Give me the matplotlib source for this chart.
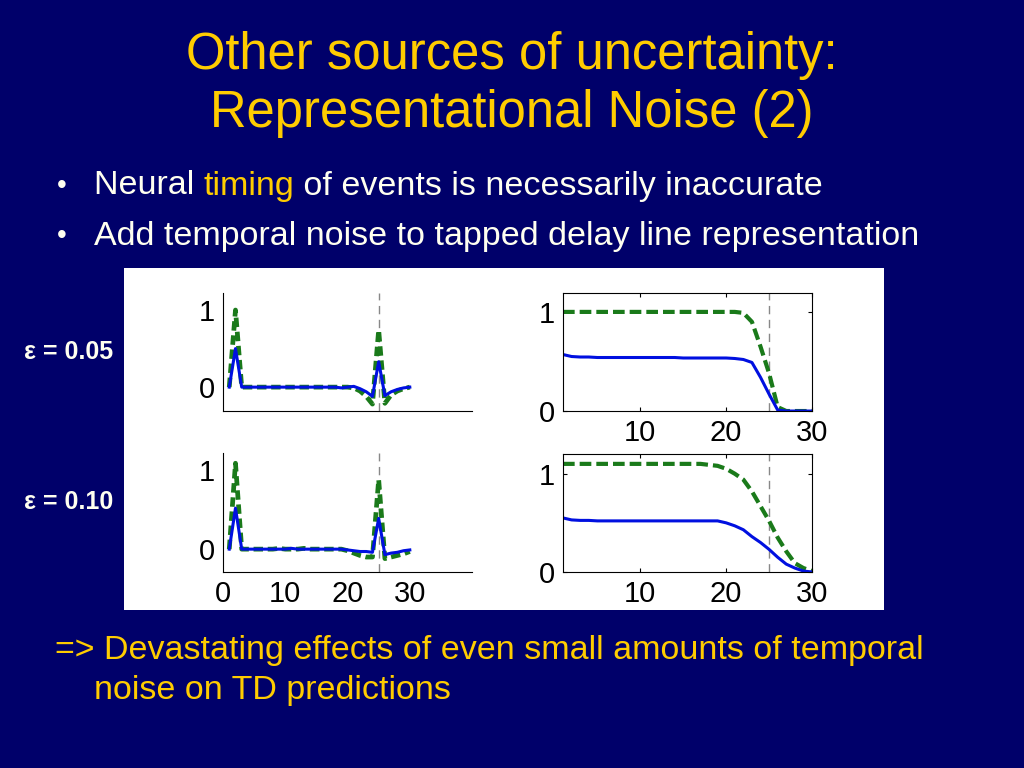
import matplotlib
matplotlib.use("Agg")
import matplotlib.pyplot as plt
from matplotlib.patches import Rectangle

plt.rcParams['font.family'] = ['Liberation Sans', 'DejaVu Sans']

navy = '#00006a'
yellow = '#ffcc00'
cream = '#fffff0'
blue = '#0010e0'
green = '#1a7a1a'

t = list(range(1, 31))

# left column: prediction error traces (eps = 0.05, eps = 0.10)
green05 = [0, 1.0, 0, 0, 0, 0, 0, 0, 0, 0, 0, 0, 0, 0, 0, 0, 0, 0, 0, 0,
           -0.01, -0.05, -0.12, -0.22, 0.74, -0.21, -0.1, -0.05, -0.02, 0.0]
blue05 = [0, 0.5, 0, 0, 0, 0, 0, 0, 0, 0, 0, 0, 0, 0, 0, 0, 0, 0, -0.01, 0,
          0.01, -0.02, -0.06, -0.12, 0.33, -0.11, -0.06, -0.03, -0.01, 0.0]
green10 = [0, 1.09, 0, 0, 0, 0, 0, 0, 0.01, 0, 0, 0, 0.01, 0, 0, 0, 0, 0, 0, -0.02,
           -0.05, -0.08, -0.1, -0.1, 0.88, -0.12, -0.1, -0.08, -0.06, -0.03]
blue10 = [0, 0.52, 0, 0, 0, 0, 0, 0, 0, 0, 0.01, 0, 0, 0, 0, 0, 0, 0, 0, -0.01,
          -0.02, -0.03, -0.03, -0.04, 0.39, -0.07, -0.05, -0.04, -0.02, -0.01]

# right column: value traces
green05v = [1.0] * 21 + [0.99, 0.9, 0.65, 0.38, 0.04, 0, 0, 0, 0]
blue05v = [0.57, 0.55, 0.545, 0.545, 0.54, 0.54, 0.54, 0.54, 0.54, 0.54,
           0.54, 0.54, 0.54, 0.54, 0.535, 0.535, 0.535, 0.535, 0.535, 0.535,
           0.53, 0.52, 0.49, 0.34, 0.17, 0.01, 0, 0, 0, 0]
green10v = [1.1, 1.1, 1.1, 1.1, 1.1, 1.1, 1.1, 1.1, 1.1, 1.1,
            1.1, 1.1, 1.1, 1.1, 1.1, 1.1, 1.1, 1.09, 1.08, 1.05,
            1.0, 0.94, 0.82, 0.67, 0.52, 0.35, 0.21, 0.09, 0.04, 0.01]
blue10v = [0.55, 0.53, 0.525, 0.525, 0.52, 0.52, 0.52, 0.52, 0.52, 0.52,
           0.52, 0.52, 0.52, 0.52, 0.52, 0.52, 0.52, 0.52, 0.52, 0.5,
           0.47, 0.43, 0.36, 0.3, 0.23, 0.15, 0.08, 0.04, 0.01, 0.0]

fig = plt.figure(figsize=(10.24, 7.68), dpi=100, facecolor=navy)

fig.patches.append(Rectangle((0.1211, 0.2057), 0.7422, 0.4453, transform=fig.transFigure,
                             facecolor='white', edgecolor='none', zorder=-10))

def left_panel(rect, g, b, ylim, xlabels):
    ax = fig.add_axes(rect)
    ax.set_facecolor('white')
    ax.axvline(25, color='#888888', lw=1, ls=(0, (6, 4)))
    ax.plot(t, g, color=green, lw=3.4, ls=(0, (2, 1)))
    ax.plot(t, b, color=blue, lw=2.2)
    ax.set_xlim(0, 40)
    ax.set_ylim(*ylim)
    ax.set_yticks([0, 1])
    ax.set_xticks([0, 10, 20, 30])
    if not xlabels:
        ax.set_xticklabels([])
    ax.spines['top'].set_visible(False)
    ax.spines['right'].set_visible(False)
    ax.tick_params(length=0, labelsize=21, pad=6)
    return ax

def right_panel(rect, g, b, ylim):
    ax = fig.add_axes(rect)
    ax.set_facecolor('white')
    ax.axvline(25, color='#888888', lw=1, ls=(0, (6, 4)))
    ax.plot(t, g, color=green, lw=3, ls=(0, (2.8, 1.2)))
    ax.plot(t, b, color=blue, lw=2.2)
    ax.set_xlim(1, 30)
    ax.set_ylim(*ylim)
    ax.set_yticks([0, 1])
    ax.set_xticks([10, 20, 30])
    ax.tick_params(direction='in', length=3, labelsize=21, pad=6,
                   top=True, right=True)
    return ax

left_panel([0.2178, 0.4648, 0.2432, 0.1536], green05, blue05, (-0.31, 1.22), False)
left_panel([0.2178, 0.2552, 0.2432, 0.155], green10, blue10, (-0.29, 1.22), True)
right_panel([0.5498, 0.4648, 0.2432, 0.1536], green05v, blue05v, (0, 1.19))
right_panel([0.5498, 0.2552, 0.2432, 0.1536], green10v, blue10v, (0, 1.2))

fig.text(0.5, 1 - 55 / 768, 'Other sources of uncertainty:', ha='center', va='center',
         color=yellow, fontsize=36.5)
fig.text(0.5, 1 - 113 / 768, 'Representational Noise (2)', ha='center', va='center',
         color=yellow, fontsize=36.5)

fig.text(57 / 1024, 1 - 186 / 768, '•', ha='left', va='center', color=cream, fontsize=20)
fig.text(57 / 1024, 1 - 236 / 768, '•', ha='left', va='center', color=cream, fontsize=20)

# first bullet with a highlighted word
renderer = fig.canvas.get_renderer()
x = 94 / 1024
for piece, col in [('Neural ', cream), ('timing', yellow), (' of events is necessarily inaccurate', cream)]:
    tx = fig.text(x, 1 - 186 / 768, piece, ha='left', va='center', color=col, fontsize=24.5)
    bb = tx.get_window_extent(renderer)
    x += bb.width / 1024

fig.text(94 / 1024, 1 - 236 / 768, 'Add temporal noise to tapped delay line representation',
         ha='left', va='center', color=cream, fontsize=24.5)

fig.text(113 / 1024, 1 - 352 / 768, 'ε = 0.05', ha='right', va='center', color=cream,
         fontsize=18, fontweight='bold')
fig.text(113 / 1024, 1 - 502 / 768, 'ε = 0.10', ha='right', va='center', color=cream,
         fontsize=18, fontweight='bold')

fig.text(55 / 1024, 1 - 650 / 768, '=> Devastating effects of even small amounts of temporal',
         ha='left', va='center', color=yellow, fontsize=24.5)
fig.text(94 / 1024, 1 - 690 / 768, 'noise on TD predictions',
         ha='left', va='center', color=yellow, fontsize=24.5)

fig.savefig('out.png', dpi=100, facecolor=navy)
